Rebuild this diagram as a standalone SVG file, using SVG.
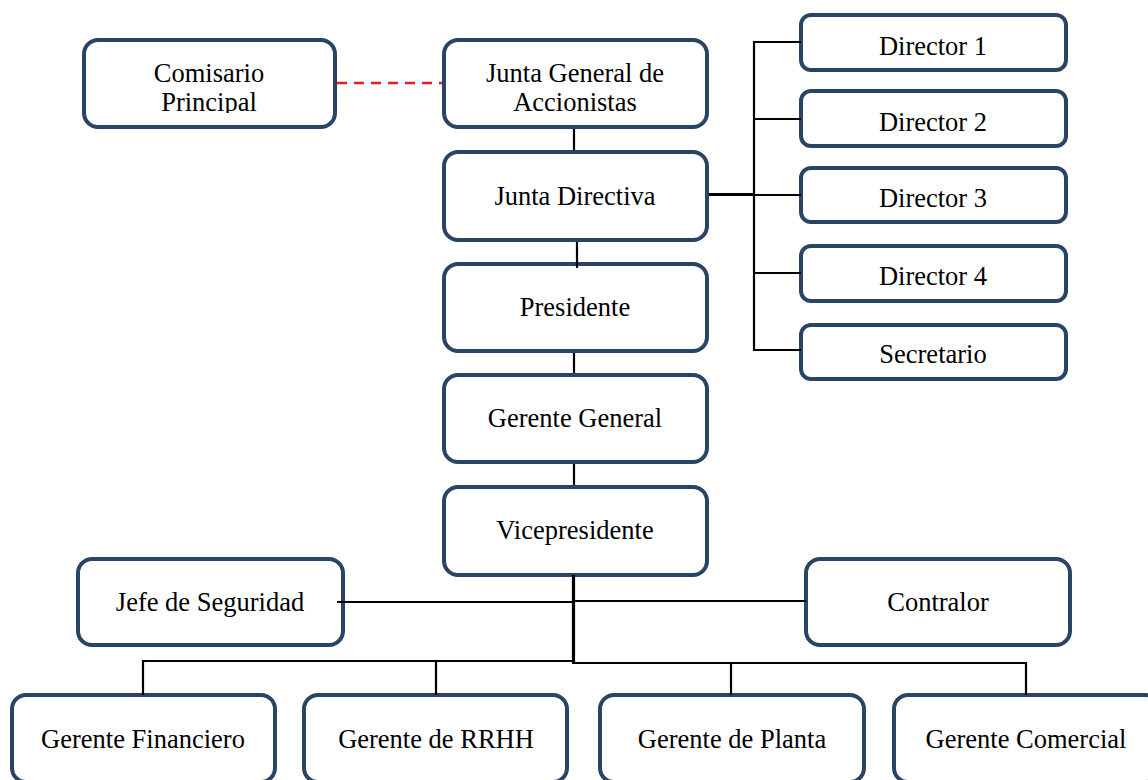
<svg xmlns="http://www.w3.org/2000/svg" width="1148" height="780" viewBox="0 0 1148 780">
  <style>
    .box { fill: #ffffff; stroke: #2a4466; stroke-width: 4; }
    .lbl { font-family: "Liberation Serif", "Times New Roman", serif; font-size: 26.5px; fill: #000000; text-anchor: middle; }
    .wire { fill: none; stroke: #000000; stroke-width: 2.2; }
    .wire-bold { fill: none; stroke: #000000; stroke-width: 3.2; }
    .dash { fill: none; stroke: #e31b23; stroke-width: 2.4; stroke-dasharray: 10 7; }
  </style>
  <defs>
    <!-- two-line labels are cut at the inner text area of their boxes -->
    <clipPath id="clip-two-line">
      <rect x="0" y="0" width="1148" height="113"/>
    </clipPath>
  </defs>
  <rect x="0" y="0" width="1148" height="780" fill="#ffffff"/>

  <!-- main column -->
  <g id="comisario-principal">
    <rect class="box" x="84" y="40" width="251" height="87" rx="14"/>
    <g clip-path="url(#clip-two-line)">
      <text class="lbl" x="209" y="82">Comisario</text>
      <text class="lbl" x="209" y="111">Principal</text>
    </g>
  </g>
  <g id="junta-general">
    <rect class="box" x="444" y="40" width="263" height="87" rx="14"/>
    <g clip-path="url(#clip-two-line)">
      <text class="lbl" x="575" y="82">Junta General de</text>
      <text class="lbl" x="575" y="111">Accionistas</text>
    </g>
  </g>
  <g id="junta-directiva">
    <rect class="box" x="444" y="152" width="263" height="88" rx="14"/>
    <text class="lbl" x="575" y="205">Junta Directiva</text>
  </g>
  <g id="presidente">
    <rect class="box" x="444" y="264" width="263" height="87" rx="14"/>
    <text class="lbl" x="575" y="316">Presidente</text>
  </g>
  <g id="gerente-general">
    <rect class="box" x="444" y="375" width="263" height="87" rx="14"/>
    <text class="lbl" x="575" y="427">Gerente General</text>
  </g>
  <g id="vicepresidente">
    <rect class="box" x="444" y="487" width="263" height="88" rx="14"/>
    <text class="lbl" x="575" y="539">Vicepresidente</text>
  </g>

  <!-- board members -->
  <g id="director-1">
    <rect class="box" x="801" y="15" width="265" height="55" rx="10"/>
    <text class="lbl" x="933" y="55">Director 1</text>
  </g>
  <g id="director-2">
    <rect class="box" x="801" y="91" width="265" height="55" rx="10"/>
    <text class="lbl" x="933" y="131">Director 2</text>
  </g>
  <g id="director-3">
    <rect class="box" x="801" y="168" width="265" height="54" rx="10"/>
    <text class="lbl" x="933" y="207">Director 3</text>
  </g>
  <g id="director-4">
    <rect class="box" x="801" y="246" width="265" height="55" rx="10"/>
    <text class="lbl" x="933" y="285">Director 4</text>
  </g>
  <g id="secretario">
    <rect class="box" x="801" y="325" width="265" height="54" rx="10"/>
    <text class="lbl" x="933" y="363">Secretario</text>
  </g>

  <!-- staff units -->
  <g id="jefe-seguridad">
    <rect class="box" x="78" y="559" width="265" height="86" rx="14"/>
    <text class="lbl" x="210" y="611">Jefe de Seguridad</text>
  </g>
  <g id="contralor">
    <rect class="box" x="806" y="559" width="264" height="86" rx="14"/>
    <text class="lbl" x="938" y="611">Contralor</text>
  </g>

  <!-- managers -->
  <g id="gerente-financiero">
    <rect class="box" x="12" y="695" width="263" height="87" rx="14"/>
    <text class="lbl" x="143" y="748">Gerente Financiero</text>
  </g>
  <g id="gerente-rrhh">
    <rect class="box" x="304" y="695" width="263" height="87" rx="14"/>
    <text class="lbl" x="436" y="748">Gerente de RRHH</text>
  </g>
  <g id="gerente-planta">
    <rect class="box" x="600" y="695" width="264" height="87" rx="14"/>
    <text class="lbl" x="732" y="748">Gerente de Planta</text>
  </g>
  <g id="gerente-comercial">
    <rect class="box" x="894" y="695" width="265" height="87" rx="14"/>
    <text class="lbl" x="1026" y="748">Gerente Comercial</text>
  </g>

  <!-- connectors -->
  <g id="connectors">
    <line class="dash" x1="337" y1="83" x2="442" y2="83"/>
    <line class="wire" x1="574" y1="129" x2="574" y2="150"/>
    <line class="wire" x1="577" y1="242" x2="577" y2="268"/>
    <line class="wire" x1="574" y1="353" x2="574" y2="373"/>
    <line class="wire" x1="574" y1="464" x2="574" y2="485"/>
    <!-- board bracket -->
    <line class="wire-bold" x1="709" y1="194.5" x2="754" y2="194.5"/>
    <line class="wire" x1="754" y1="41" x2="754" y2="351"/>
    <line class="wire" x1="754" y1="42" x2="801" y2="42"/>
    <line class="wire" x1="754" y1="119" x2="801" y2="119"/>
    <line class="wire" x1="754" y1="195" x2="801" y2="195"/>
    <line class="wire" x1="754" y1="273" x2="801" y2="273"/>
    <line class="wire" x1="754" y1="350" x2="801" y2="350"/>
    <!-- staff line -->
    <line class="wire" x1="337" y1="602" x2="573" y2="602"/>
    <line class="wire" x1="573" y1="601" x2="806" y2="601"/>
    <!-- trunk and manager bus -->
    <line class="wire-bold" x1="573.5" y1="575" x2="573.5" y2="663"/>
    <path class="wire" d="M143,695 V661 H574"/>
    <line class="wire" x1="436" y1="661" x2="436" y2="695"/>
    <path class="wire" d="M572,663 H731 V695"/>
    <path class="wire" d="M731,663 H1026 V695"/>
  </g>
</svg>
